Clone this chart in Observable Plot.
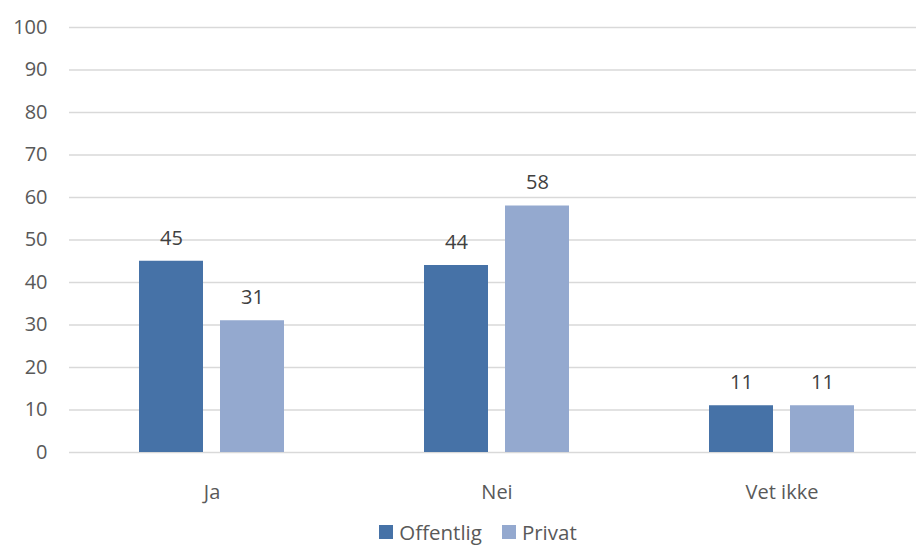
<!DOCTYPE html>
<html><head><meta charset="utf-8">
<script src="https://cdn.jsdelivr.net/npm/d3@7"></script>
<script src="https://cdn.jsdelivr.net/npm/@observablehq/plot@0.6"></script>
<style>
body{margin:0;background:#fff;font-family:"Open Sans",sans-serif;overflow:hidden;}
#legend{display:flex;justify-content:center;align-items:center;gap:0;margin-top:9px;padding-left:40px;font-size:20.5px;color:#595959;height:26px;}
.item{display:flex;align-items:center;margin:0 10px;}
.sw{width:14px;height:14px;margin-right:6px;}
</style></head><body>
<div id="chart"></div>
<div id="legend"></div>
<script>
const categories = ["Ja", "Nei", "Vet ikke"];
const series = ["Offentlig", "Privat"];
const offentlig = [45, 44, 11];
const privat = [31, 58, 11];
const yTicks = [0,10,20,30,40,50,60,70,80,90,100];
const colors = ["#4672a7", "#94a9cf"];

const data = [];
categories.forEach((c,i)=>{
  data.push({cat:c, series:"Offentlig", value:offentlig[i]});
  data.push({cat:c, series:"Privat", value:privat[i]});
});

const chart = Plot.plot({
  width: 916, height: 510,
  marginLeft: 69, marginRight: 0, marginTop: 27, marginBottom: 58,
  style: {fontFamily: "Open Sans", fontSize: "20px", color: "#595959", background: "#fff"},
  fx: {domain: categories, range: [69, 924], padding: 0, label: null, axis: null},
  x: {domain: series, range: [139, 284], paddingInner: 0.21, paddingOuter: 0, axis: null},
  y: {domain: [0, 100], axis: null},
  color: {domain: series, range: colors},
  marks: [
    Plot.gridY(yTicks, {stroke: "#d9d9d9", strokeOpacity: 1, strokeWidth: 1.5}),
    Plot.barY(data, {fx: "cat", x: "series", y: "value", fill: "series"}),
    Plot.text(data, {fx: "cat", x: "series", y: "value", text: d => String(d.value), dy: -23, fill: "#404040", fontSize: 20}),
    Plot.axisY(yTicks, {tickSize: 0, tickPadding: 22, fill: "#595959", fontSize: 20, label: null}),
    Plot.axisFx({anchor: "bottom", tickSize: 0, tickPadding: 32, fill: "#595959", fontSize: 20, label: null})
  ]
});
document.getElementById("chart").appendChild(chart);

const leg = document.getElementById("legend");
series.forEach((s,i)=>{
  const it = document.createElement("div"); it.className="item";
  const sw = document.createElement("div"); sw.className="sw"; sw.style.background=colors[i];
  const t = document.createElement("span"); t.textContent=s;
  it.appendChild(sw); it.appendChild(t); leg.appendChild(it);
});
</script>
</body></html>
